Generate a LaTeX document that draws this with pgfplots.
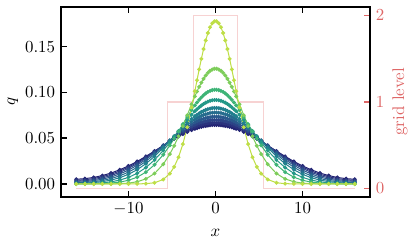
\documentclass[border=0pt]{standalone}
\usepackage{pgfplots}
\pgfplotsset{compat=1.18}
\usepackage{pgfplotstable}
\definecolor{c1}{RGB}{190,222,70}
\definecolor{c2}{RGB}{125,205,90}
\definecolor{c3}{RGB}{62,180,118}
\definecolor{c4}{RGB}{36,152,136}
\definecolor{c5}{RGB}{34,128,142}
\definecolor{c6}{RGB}{38,108,142}
\definecolor{c7}{RGB}{42,88,140}
\definecolor{c8}{RGB}{45,68,135}
\definecolor{c9}{RGB}{42,50,125}
\definecolor{c10}{RGB}{35,35,115}
\definecolor{lvl}{RGB}{247,210,210}
\definecolor{lvltxt}{RGB}{222,102,102}

\pgfplotstableread{
x c1 c2 c3 c4 c5 c6 c7 c8 c9 c10
-16 0.0000 0.0000 0.0000 0.0002 0.0006 0.0012 0.0020 0.0030 0.0040 0.0051
-15 0.0000 0.0000 0.0001 0.0003 0.0009 0.0016 0.0025 0.0036 0.0046 0.0058
-14 0.0000 0.0000 0.0002 0.0006 0.0015 0.0024 0.0036 0.0047 0.0059 0.0071
-13 0.0000 0.0000 0.0004 0.0012 0.0025 0.0038 0.0052 0.0066 0.0079 0.0092
-12 0.0000 0.0001 0.0010 0.0023 0.0042 0.0059 0.0076 0.0092 0.0106 0.0119
-11 0.0000 0.0003 0.0020 0.0042 0.0068 0.0089 0.0109 0.0126 0.0141 0.0155
-10 0.0000 0.0009 0.0040 0.0072 0.0105 0.0129 0.0151 0.0170 0.0184 0.0197
-9 0.0001 0.0024 0.0074 0.0116 0.0156 0.0182 0.0204 0.0222 0.0235 0.0246
-8 0.0003 0.0055 0.0129 0.0179 0.0221 0.0247 0.0267 0.0282 0.0293 0.0301
-7 0.0013 0.0114 0.0210 0.0263 0.0302 0.0323 0.0339 0.0349 0.0355 0.0360
-6 0.0049 0.0216 0.0320 0.0366 0.0395 0.0408 0.0416 0.0420 0.0420 0.0420
-5.25 0.0113 0.0326 0.0421 0.0454 0.0470 0.0475 0.0475 0.0473 0.0469 0.0464
-4.75 0.0186 0.0417 0.0495 0.0516 0.0521 0.0520 0.0514 0.0508 0.0500 0.0492
-4.25 0.0292 0.0520 0.0573 0.0578 0.0571 0.0564 0.0552 0.0542 0.0530 0.0519
-3.75 0.0436 0.0632 0.0652 0.0641 0.0621 0.0606 0.0588 0.0573 0.0558 0.0545
-3.25 0.0619 0.0751 0.0731 0.0700 0.0667 0.0645 0.0622 0.0602 0.0584 0.0568
-2.75 0.0836 0.0870 0.0806 0.0756 0.0710 0.0681 0.0652 0.0629 0.0607 0.0589
-2.375 0.1013 0.0956 0.0858 0.0794 0.0739 0.0705 0.0672 0.0646 0.0623 0.0602
-2.125 0.1133 0.1010 0.0890 0.0817 0.0756 0.0719 0.0684 0.0657 0.0632 0.0610
-1.875 0.1252 0.1061 0.0919 0.0838 0.0772 0.0732 0.0695 0.0666 0.0640 0.0618
-1.625 0.1367 0.1107 0.0945 0.0857 0.0786 0.0744 0.0705 0.0674 0.0647 0.0624
-1.375 0.1473 0.1148 0.0969 0.0874 0.0798 0.0754 0.0713 0.0681 0.0654 0.0630
-1.125 0.1568 0.1184 0.0989 0.0888 0.0809 0.0762 0.0720 0.0688 0.0659 0.0634
-0.875 0.1649 0.1214 0.1005 0.0899 0.0817 0.0769 0.0726 0.0692 0.0663 0.0638
-0.625 0.1712 0.1236 0.1017 0.0908 0.0823 0.0775 0.0730 0.0696 0.0667 0.0641
-0.375 0.1755 0.1251 0.1025 0.0914 0.0828 0.0778 0.0733 0.0699 0.0669 0.0643
-0.125 0.1777 0.1259 0.1029 0.0917 0.0830 0.0780 0.0735 0.0700 0.0670 0.0644
0.125 0.1777 0.1259 0.1029 0.0917 0.0830 0.0780 0.0735 0.0700 0.0670 0.0644
0.375 0.1755 0.1251 0.1025 0.0914 0.0828 0.0778 0.0733 0.0699 0.0669 0.0643
0.625 0.1712 0.1236 0.1017 0.0908 0.0823 0.0775 0.0730 0.0696 0.0667 0.0641
0.875 0.1649 0.1214 0.1005 0.0899 0.0817 0.0769 0.0726 0.0692 0.0663 0.0638
1.125 0.1568 0.1184 0.0989 0.0888 0.0809 0.0762 0.0720 0.0688 0.0659 0.0634
1.375 0.1473 0.1148 0.0969 0.0874 0.0798 0.0754 0.0713 0.0681 0.0654 0.0630
1.625 0.1367 0.1107 0.0945 0.0857 0.0786 0.0744 0.0705 0.0674 0.0647 0.0624
1.875 0.1252 0.1061 0.0919 0.0838 0.0772 0.0732 0.0695 0.0666 0.0640 0.0618
2.125 0.1133 0.1010 0.0890 0.0817 0.0756 0.0719 0.0684 0.0657 0.0632 0.0610
2.375 0.1013 0.0956 0.0858 0.0794 0.0739 0.0705 0.0672 0.0646 0.0623 0.0602
2.75 0.0836 0.0870 0.0806 0.0756 0.0710 0.0681 0.0652 0.0629 0.0607 0.0589
3.25 0.0619 0.0751 0.0731 0.0700 0.0667 0.0645 0.0622 0.0602 0.0584 0.0568
3.75 0.0436 0.0632 0.0652 0.0641 0.0621 0.0606 0.0588 0.0573 0.0558 0.0545
4.25 0.0292 0.0520 0.0573 0.0578 0.0571 0.0564 0.0552 0.0542 0.0530 0.0519
4.75 0.0186 0.0417 0.0495 0.0516 0.0521 0.0520 0.0514 0.0508 0.0500 0.0492
5.25 0.0113 0.0326 0.0421 0.0454 0.0470 0.0475 0.0475 0.0473 0.0469 0.0464
6 0.0049 0.0216 0.0320 0.0366 0.0395 0.0408 0.0416 0.0420 0.0420 0.0420
7 0.0013 0.0114 0.0210 0.0263 0.0302 0.0323 0.0339 0.0349 0.0355 0.0360
8 0.0003 0.0055 0.0129 0.0179 0.0221 0.0247 0.0267 0.0282 0.0293 0.0301
9 0.0001 0.0024 0.0074 0.0116 0.0156 0.0182 0.0204 0.0222 0.0235 0.0246
10 0.0000 0.0009 0.0040 0.0072 0.0105 0.0129 0.0151 0.0170 0.0184 0.0197
11 0.0000 0.0003 0.0020 0.0042 0.0068 0.0089 0.0109 0.0126 0.0141 0.0155
12 0.0000 0.0001 0.0010 0.0023 0.0042 0.0059 0.0076 0.0092 0.0106 0.0119
13 0.0000 0.0000 0.0004 0.0012 0.0025 0.0038 0.0052 0.0066 0.0079 0.0092
14 0.0000 0.0000 0.0002 0.0006 0.0015 0.0024 0.0036 0.0047 0.0059 0.0071
15 0.0000 0.0000 0.0001 0.0003 0.0009 0.0016 0.0025 0.0036 0.0046 0.0058
16 0.0000 0.0000 0.0000 0.0002 0.0006 0.0012 0.0020 0.0030 0.0040 0.0051
}\data

\pgfplotstableread{
x lev
-16 0
-5.5 0
-5.5 1
-2.5 1
-2.5 2
2.5 2
2.5 1
5.5 1
5.5 0
16 0
}\levels

\begin{document}
\begin{tikzpicture}
\useasboundingbox (-36.2pt,-32pt) rectangle (210.5pt,116.8pt);
% twin axis (grid level), drawn first so that its line lies behind
\begin{axis}[
  at={(0,0)}, anchor=south west,
  scale only axis, width=183.2pt, height=112.7pt,
  xmin=-17.75, xmax=17.75, ymin=-0.1, ymax=2.1,
  axis x line=none, axis y line*=right, xtick=\empty,
  y axis line style={draw=none},
  ytick={0,1,2},
  tick align=inside, major tick length=3.5pt,
  y tick label style={text=lvltxt},
  every y tick/.style={draw=lvltxt, line width=0.9pt},
  ylabel={grid level},
  every axis y label/.style={at={(axis description cs:1,0.5)}, anchor=center, rotate=90, yshift=-17.8pt, text=lvltxt},
]
\addplot[lvl, line width=0.8pt] table[x=x, y=lev]{\levels};
\end{axis}
\begin{axis}[
  at={(0,0)}, anchor=south west,
  scale only axis, width=183.2pt, height=112.7pt,
  xmin=-17.75, xmax=17.75, ymin=-0.0142, ymax=0.1934,
  xtick={-10,0,10}, ytick={0,0.05,0.1,0.15}, ytick pos=left,
  scaled y ticks=false,
  y tick label style={/pgf/number format/.cd, fixed, fixed zerofill, precision=2},
  tick align=inside, major tick length=3.5pt,
  axis line style={line width=0.9pt},
  every tick/.style={black, line width=0.9pt},
  xlabel={$x$}, ylabel={$q$},
  every axis x label/.style={at={(axis description cs:0.5,0)}, anchor=center, yshift=-21.3pt},
  every axis y label/.style={at={(axis description cs:0,0.5)}, anchor=center, rotate=90, yshift=28.5pt},
  every axis plot/.append style={line width=0.6pt, mark=*, mark size=0.85pt},
]
\addplot[c10] table[x=x, y=c10]{\data};
\addplot[c9] table[x=x, y=c9]{\data};
\addplot[c8] table[x=x, y=c8]{\data};
\addplot[c7] table[x=x, y=c7]{\data};
\addplot[c6] table[x=x, y=c6]{\data};
\addplot[c5] table[x=x, y=c5]{\data};
\addplot[c4] table[x=x, y=c4]{\data};
\addplot[c3] table[x=x, y=c3]{\data};
\addplot[c2] table[x=x, y=c2]{\data};
\addplot[c1] table[x=x, y=c1]{\data};
\end{axis}
\end{tikzpicture}
\end{document}
